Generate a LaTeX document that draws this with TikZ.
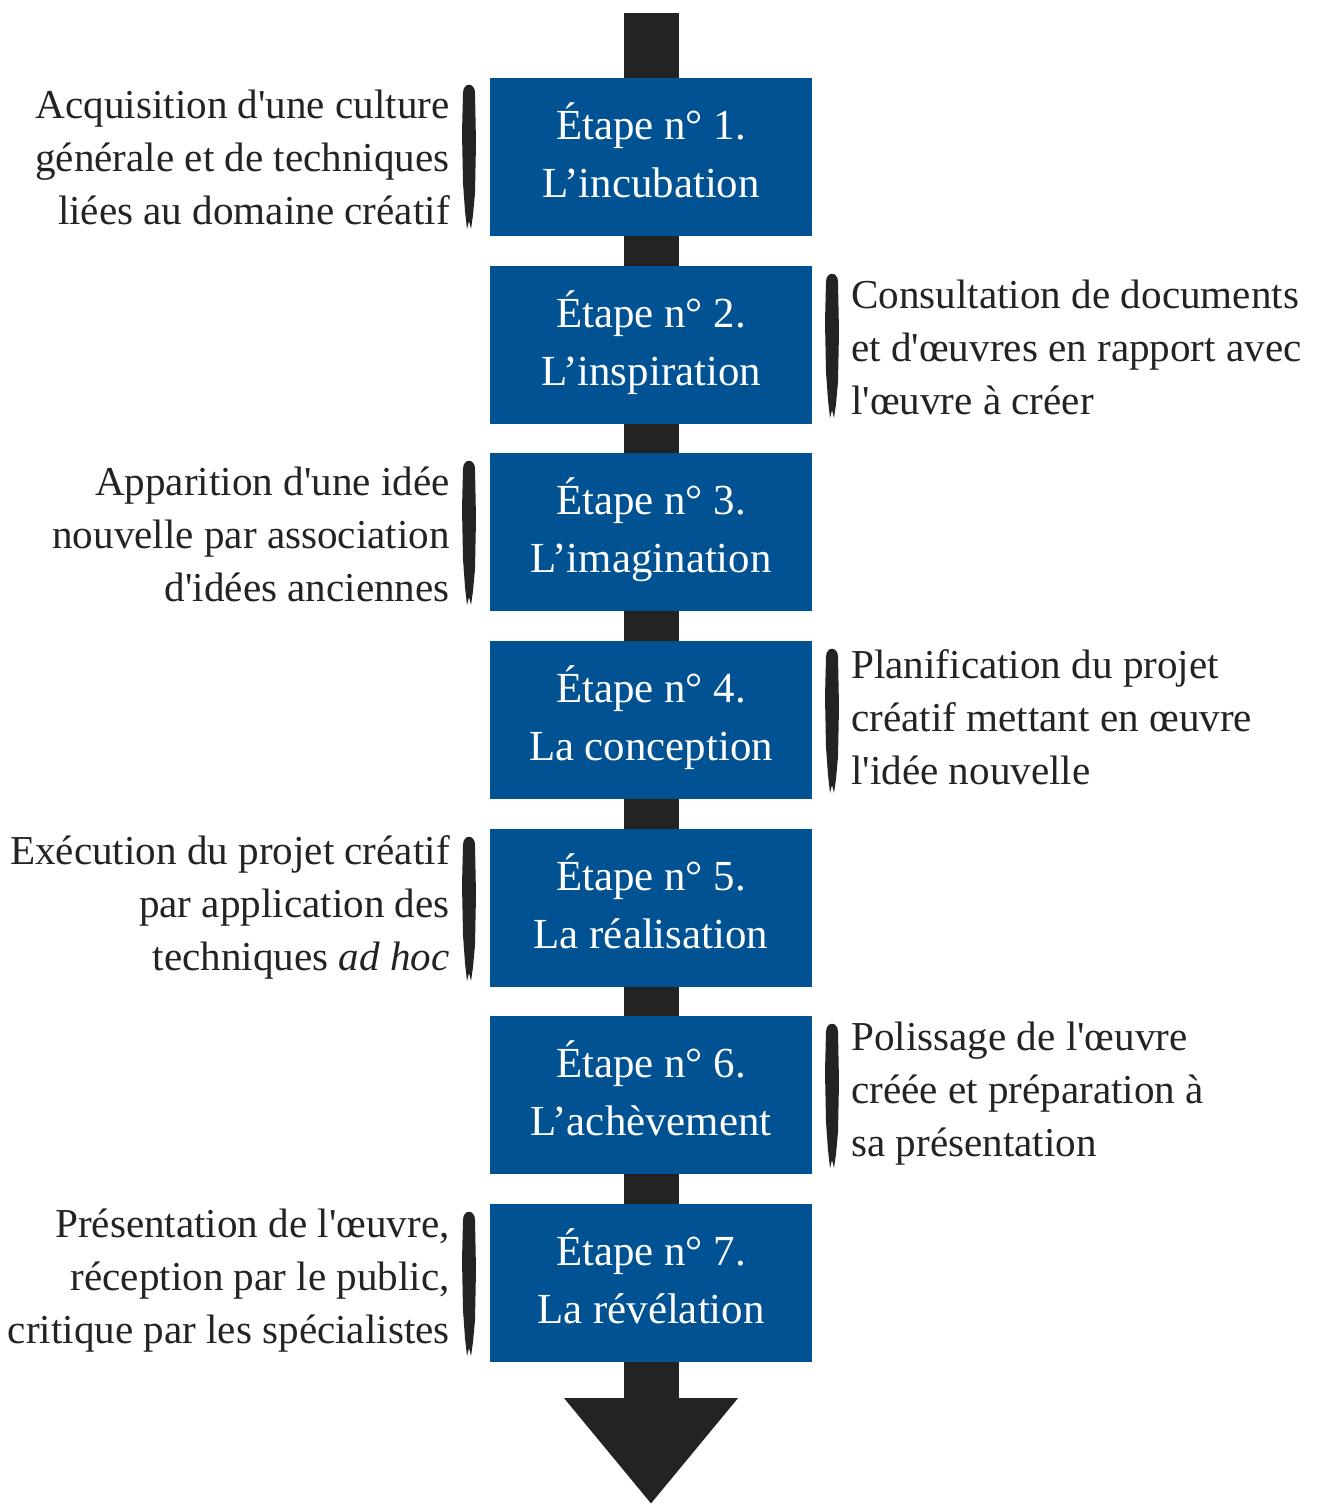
\documentclass[tikz,border=0pt]{standalone}
\usepackage{fontspec}
\usepackage{xcolor}
\usetikzlibrary{arrows.meta}

\setmainfont{Liberation Serif}[Ligatures=TeXOff]

\definecolor{etapeblue}{RGB}{0,82,147}
\definecolor{ink}{RGB}{35,35,35}

% two lines of a step
\newcommand{\etapetext}[2]{\begin{tabular}{@{}c@{}}Étape n° #1.\\#2\end{tabular}}

\tikzset{
    brushmark/.pic={
        \fill[ink] (-6,10) .. controls (-6,-1) and (6,-1) .. (6,10) -- (7,60) -- (6,110)
            -- (4,132) -- (2,146) -- (0,138) -- (-2,146) -- (-4,128) -- (-6,100) -- (-7,50) -- cycle;
    }
}

\begin{document}
\begin{tikzpicture}[x=0.02cm, y=-0.02cm,
    etape/.style={fill=etapeblue, text=white, minimum width=6.44cm, minimum height=3.16cm,
        inner sep=0pt, font=\fontsize{24.4}{33}\selectfont\renewcommand{\arraystretch}{1}},
    noteleft/.style={anchor=east, align=right, text=ink, inner sep=0pt,
        font=\fontsize{23.4}{30.2}\selectfont},
    noteright/.style={anchor=west, align=left, text=ink, inner sep=0pt,
        font=\fontsize{23.4}{30.2}\selectfont}]
    \useasboundingbox (0,0) rectangle (1318,1504);

    % the long arrow behind the steps
    \coordinate (top) at (651,13);
    \coordinate (bottom) at (651,1504);
    \draw[ink, line width=1.1cm, -{Triangle[length=2.12cm, width=3.34cm]}] (top) -- (bottom);

    % steps
    \node[etape] (s1) at (651,157) {\etapetext{1}{L’incubation}};
    \node[etape] (s2) at (651,345) {\etapetext{2}{L’inspiration}};
    \node[etape] (s3) at (651,532) {\etapetext{3}{L’imagination}};
    \node[etape] (s4) at (651,720) {\etapetext{4}{La conception}};
    \node[etape] (s5) at (651,908) {\etapetext{5}{La réalisation}};
    \node[etape] (s6) at (651,1095) {\etapetext{6}{L’achèvement}};
    \node[etape] (s7) at (651,1283) {\etapetext{7}{La révélation}};

    % notes
    \node[noteleft] (n1) at (450,157) {Acquisition d'une culture\\générale et de techniques\\liées au domaine créatif};
    \node[noteright] (n2) at (851,347) {Consultation de documents\\et d'œuvres en rapport avec\\l'œuvre à créer};
    \node[noteleft] (n3) at (450,534) {Apparition d'une idée\\nouvelle par association\\d'idées anciennes};
    \node[noteright] (n4) at (851,717) {Planification du projet\\créatif mettant en œuvre\\l'idée nouvelle};
    \node[noteleft] (n5) at (450,907) {Exécution du projet créatif\\par application des\\techniques \textit{ad hoc}};
    \node[noteright] (n6) at (851,1094) {Polissage de l'œuvre\\créée et préparation à\\sa présentation};
    \node[noteleft] (n7) at (450,1281) {Présentation de l'œuvre,\\réception par le public,\\critique par les spécialistes};

    % brush strokes
    \pic at (469,83) {brushmark};
    \pic at (832,272) {brushmark};
    \pic at (469,459) {brushmark};
    \pic at (832,647) {brushmark};
    \pic at (469,835) {brushmark};
    \pic at (832,1022) {brushmark};
    \pic at (469,1210) {brushmark};
\end{tikzpicture}
\end{document}
